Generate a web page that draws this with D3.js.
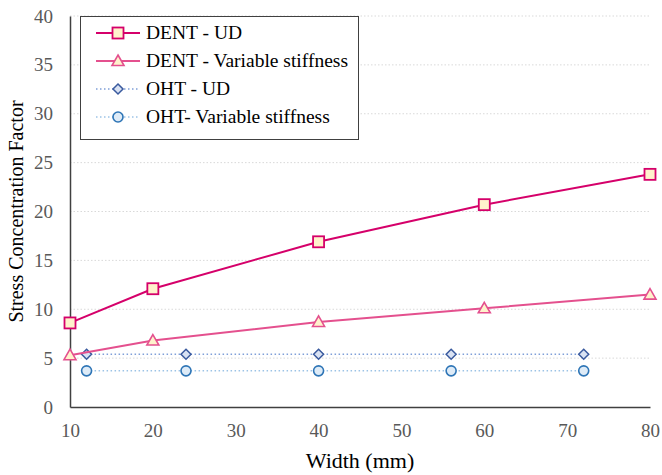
<!DOCTYPE html>
<html lang="en">
  <head>
    <meta charset="utf-8">
    <title></title>
    <style>
      body { margin: 0; background: #fff; }
      svg { font-family: 'Liberation Serif', serif; }
    </style>
  </head>
  <body>
    <div id="chart"></div>
  </body>
  <script src="https://cdnjs.cloudflare.com/ajax/libs/d3/7.8.5/d3.min.js"></script>
  <script type="text/javascript">

    // DENT specimens
    const dentWidths = [10, 20, 40, 60, 80]
    const dentUD = [8.6, 12.1, 16.9, 20.7, 23.8]
    const dentVS = [5.3, 6.8, 8.7, 10.1, 11.5]

    // OHT specimens
    const ohtWidths = [12, 24, 40, 56, 72]
    const ohtUD = [5.4, 5.4, 5.4, 5.4, 5.4]
    const ohtVS = [3.7, 3.7, 3.7, 3.7, 3.7]

    const xTicks = [10, 20, 30, 40, 50, 60, 70, 80]
    const yTicks = [0, 5, 10, 15, 20, 25, 30, 35, 40]

    const seriesNames = ['DENT - UD', 'DENT - Variable stiffness', 'OHT - UD', 'OHT- Variable stiffness']

    const width = 662
    const height = 475
    const margin = { top: 16, right: 12, bottom: 68, left: 70 }

    const series = [
      { name: seriesNames[0], xs: dentWidths, ys: dentUD, line: '#d5006a', dash: null, shape: 'square', stroke: '#d5006a', fill: '#fff2cc' },
      { name: seriesNames[1], xs: dentWidths, ys: dentVS, line: '#e4508e', dash: null, shape: 'triangle', stroke: '#e4508e', fill: '#fff2cc' },
      { name: seriesNames[2], xs: ohtWidths, ys: ohtUD, line: '#7f9fd8', dash: '1.5,2.5', shape: 'diamond', stroke: '#3a5a9e', fill: '#d9e2f3' },
      { name: seriesNames[3], xs: ohtWidths, ys: ohtVS, line: '#9cc3e6', dash: '1.5,2.5', shape: 'circle', stroke: '#2e75b6', fill: '#deebf7' }
    ]

    const svg = d3.select('#chart')
      .append('svg')
      .attr('width', width)
      .attr('height', height)

    const x = d3.scaleLinear()
      .domain([10, 80])
      .range([margin.left, width - margin.right])

    const y = d3.scaleLinear()
      .domain([0, 40])
      .range([height - margin.bottom, margin.top])

    // gridlines
    svg.append('g')
      .selectAll('line')
      .data(yTicks.filter(d => d > 0))
      .enter()
      .append('line')
      .attr('x1', x(10))
      .attr('x2', x(80))
      .attr('y1', d => y(d))
      .attr('y2', d => y(d))
      .attr('stroke', '#d9d9d9')
      .attr('stroke-width', 1)
      .attr('stroke-dasharray', '1.5,2')

    // axes
    const xAxis = svg.append('g')
      .attr('transform', `translate(0, ${y(0)})`)
      .call(d3.axisBottom(x).tickValues(xTicks).tickSize(0).tickPadding(17))
    xAxis.select('.domain').attr('stroke', '#404040').attr('stroke-width', 1.5)

    const yAxis = svg.append('g')
      .attr('transform', `translate(${x(10)}, 0)`)
      .call(d3.axisLeft(y).tickValues(yTicks).tickSize(0).tickPadding(17))
    yAxis.select('.domain').attr('stroke', '#404040').attr('stroke-width', 1.5)

    svg.selectAll('.tick text')
      .style('font-family', "'Liberation Serif', serif")
      .style('font-size', '19px')
      .attr('fill', '#595959')

    // axis titles
    svg.append('text')
      .attr('x', (x(10) + x(80)) / 2)
      .attr('y', 468)
      .attr('text-anchor', 'middle')
      .style('font-size', '22px')
      .text('Width (mm)')

    svg.append('text')
      .attr('transform', `translate(23, ${(y(0) + y(40)) / 2}) rotate(-90)`)
      .attr('text-anchor', 'middle')
      .style('font-size', '20px')
      .text('Stress Concentration Factor')

    function drawMarker(g, s, cx, cy) {
      if (s.shape === 'square') {
        g.append('rect').attr('x', cx - 5.5).attr('y', cy - 5.5).attr('width', 11).attr('height', 11)
          .attr('fill', s.fill).attr('stroke', s.stroke).attr('stroke-width', 1.8)
      } else if (s.shape === 'triangle') {
        g.append('path').attr('d', `M${cx},${cy - 6}L${cx + 6},${cy + 4.5}L${cx - 6},${cy + 4.5}Z`)
          .attr('fill', s.fill).attr('stroke', s.stroke).attr('stroke-width', 1.6)
      } else if (s.shape === 'diamond') {
        g.append('path').attr('d', `M${cx},${cy - 5}L${cx + 5},${cy}L${cx},${cy + 5}L${cx - 5},${cy}Z`)
          .attr('fill', s.fill).attr('stroke', s.stroke).attr('stroke-width', 1.5)
      } else {
        g.append('circle').attr('cx', cx).attr('cy', cy).attr('r', 5)
          .attr('fill', s.fill).attr('stroke', s.stroke).attr('stroke-width', 1.6)
      }
    }

    const line = d3.line()
      .x(d => x(d[0]))
      .y(d => y(d[1]))

    // draw OHT first so DENT sits on top
    series.slice().reverse().forEach(s => {
      const pts = s.xs.map((v, i) => [v, s.ys[i]])
      const g = svg.append('g')
      g.append('path')
        .attr('d', line(pts))
        .attr('fill', 'none')
        .attr('stroke', s.line)
        .attr('stroke-width', s.dash ? 1.5 : 2)
        .attr('stroke-dasharray', s.dash)
      pts.forEach(p => drawMarker(g, s, x(p[0]), y(p[1])))
    })

    // legend
    const legend = svg.append('g').attr('transform', 'translate(80, 16)')
    legend.append('rect')
      .attr('x', 0.5).attr('y', 0.5)
      .attr('width', 278).attr('height', 123)
      .attr('fill', '#fff')
      .attr('stroke', '#404040')
      .attr('stroke-width', 1)

    series.forEach((s, i) => {
      const ly = 17 + i * 28
      legend.append('line')
        .attr('x1', 16).attr('x2', 60)
        .attr('y1', ly).attr('y2', ly)
        .attr('stroke', s.line)
        .attr('stroke-width', s.dash ? 1.5 : 2)
        .attr('stroke-dasharray', s.dash)
      drawMarker(legend, s, 38, ly)
      legend.append('text')
        .attr('x', 66)
        .attr('y', ly + 6)
        .style('font-size', '19.5px')
        .text(s.name)
    })

  </script>
</html>
